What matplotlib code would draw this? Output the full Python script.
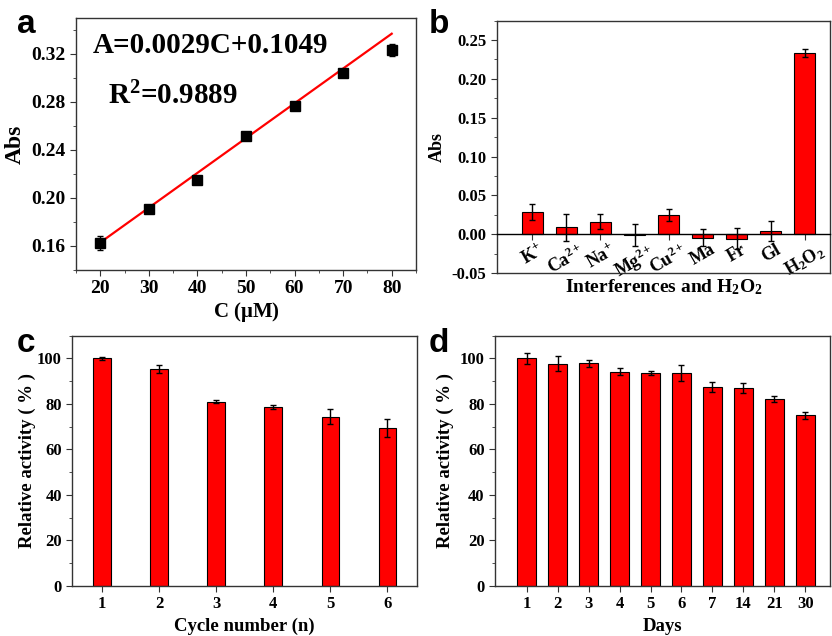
import numpy as np
import matplotlib.pyplot as plt
from matplotlib.ticker import MultipleLocator, FormatStrFormatter

plt.rcParams['font.family'] = ['Liberation Serif', 'DejaVu Serif']
plt.rcParams['font.weight'] = 'bold'
plt.rcParams['mathtext.fontset'] = 'custom'
plt.rcParams['mathtext.rm'] = 'Liberation Serif:bold'
plt.rcParams['mathtext.bf'] = 'Liberation Serif:bold'
plt.rcParams['mathtext.it'] = 'Liberation Serif:bold:italic'

# panel a: calibration
conc = [20, 30, 40, 50, 60, 70, 80]
absorb = [0.1623, 0.1906, 0.2147, 0.2517, 0.2767, 0.3039, 0.3231]
absorb_err = [0.006, 0.002, 0.002, 0.002, 0.002, 0.002, 0.005]
slope = 0.0029
intercept = 0.1049

# panel b: interferences
species = [r'K$^{+}$', r'Ca$^{2+}$', r'Na$^{+}$', r'Mg$^{2+}$', r'Cu$^{2+}$',
           'Ma', 'Fr', 'Gl', r'H$_2$O$_2$']
interf = [0.0284, 0.0086, 0.0163, -0.001, 0.0249, -0.0048, -0.0057, 0.0043, 0.233]
interf_err = [0.010, 0.018, 0.010, 0.014, 0.008, 0.011, 0.013, 0.0125, 0.005]

# panel c: reusability
cycles = ['1', '2', '3', '4', '5', '6']
cycle_act = [100.0, 95.2, 81.0, 78.7, 74.4, 69.5]
cycle_err = [0.7, 1.8, 0.8, 0.7, 3.2, 4.0]

# panel d: storage stability
days = ['1', '2', '3', '4', '5', '6', '7', '14', '21', '30']
day_act = [100.0, 97.7, 97.8, 94.1, 93.6, 93.4, 87.4, 87.0, 82.2, 75.0]
day_err = [2.5, 3.2, 1.5, 1.5, 1.0, 3.5, 2.2, 2.4, 1.2, 1.5]

red = '#ff0000'
spine_col = '#333333'


def style(ax, size=11):
    for s in ax.spines.values():
        s.set_color(spine_col)
        s.set_linewidth(1.0)
    ax.tick_params(which='both', direction='out', top=False, right=False,
                   labelsize=size, color=spine_col)
    ax.tick_params(which='major', length=4)
    ax.tick_params(which='minor', length=2)
    for lab in ax.get_xticklabels() + ax.get_yticklabels():
        lab.set_fontweight('bold')


def letter(x, y, s):
    fig.text(x, y, s, fontsize=24, fontweight='bold', family='Liberation Sans',
             va='baseline')


fig = plt.figure(figsize=(8.32, 6.36), dpi=100)

# ---- a
ax = fig.add_axes([0.0913, 0.5755, 0.4087, 0.3962])
xs = np.array([conc[0], conc[-1]])
ax.plot(xs, slope * xs + intercept, color=red, lw=1.6, zorder=2)
ax.errorbar(conc, absorb, yerr=absorb_err, fmt='s', color='black', ms=7,
            capsize=2, elinewidth=1, zorder=3)
ax.set_xlim(15, 85)
ax.set_ylim(0.14, 0.35)
ax.set_xticks(conc)
ax.xaxis.set_minor_locator(MultipleLocator(5))
ax.set_yticks([0.16, 0.20, 0.24, 0.28, 0.32])
ax.yaxis.set_minor_locator(MultipleLocator(0.02))
ax.yaxis.set_major_formatter(FormatStrFormatter('%.2f'))
ax.set_xlabel(r'C ($\mathregular{\mu}$M)', fontsize=15, fontweight='bold', labelpad=2)
ax.set_ylabel('Abs', fontsize=17, fontweight='bold', labelpad=4)
ax.text(0.05, 0.89, 'A=0.0029C+0.1049', transform=ax.transAxes,
        fontsize=21, fontweight='bold', va='center')
ax.text(0.095, 0.69, r'R$^2$=0.9889', transform=ax.transAxes,
        fontsize=21, fontweight='bold', va='center')
style(ax, 14)
letter(0.020, 0.948, 'a')

# ---- b
ax = fig.add_axes([0.5974, 0.5708, 0.4, 0.3967])
xb = np.arange(len(species))
ax.bar(xb, interf, width=0.62, color=red, edgecolor='black', lw=0.8, zorder=2)
ax.errorbar(xb, interf, yerr=interf_err, fmt='none', ecolor='black',
            capsize=2, elinewidth=1, zorder=3)
ax.set_xlim(-1.04, 8.74)
ax.set_ylim(-0.05, 0.275)
ax.spines['bottom'].set_position(('data', 0))
ax.plot([0, 1], [0, 0], transform=ax.transAxes, color=spine_col, lw=1.0,
        clip_on=False, zorder=5)
ax.set_xticks(xb)
ax.set_xticklabels(species, rotation=30, ha='center')
ax.set_yticks(np.arange(-0.05, 0.26, 0.05))
ax.yaxis.set_minor_locator(MultipleLocator(0.025))
ax.yaxis.set_major_formatter(FormatStrFormatter('%.2f'))
ax.set_ylabel('Abs', fontsize=13, fontweight='bold', labelpad=4)
ax.text(0.5, -0.058, r'Interferences and H$_2$O$_2$', transform=ax.transAxes,
        ha='center', va='center', fontsize=14, fontweight='bold')
style(ax, 12)
ax.tick_params(axis='x', labelsize=13, pad=1)
ax.spines['bottom'].set_color('black')
letter(0.515, 0.948, 'b')

# ---- c
ax = fig.add_axes([0.0869, 0.0786, 0.414, 0.3936])
xc = np.arange(1, len(cycles) + 1)
ax.bar(xc, cycle_act, width=0.30, color=red, edgecolor='black', lw=0.8, zorder=2)
ax.errorbar(xc, cycle_act, yerr=cycle_err, fmt='none', ecolor='black',
            capsize=2, elinewidth=1, zorder=3)
ax.set_xlim(0.48, 6.52)
ax.set_ylim(0, 110)
ax.set_xticks(xc)
ax.set_xticklabels(cycles)
ax.set_yticks(range(0, 101, 20))
ax.yaxis.set_minor_locator(MultipleLocator(10))
ax.set_xlabel('Cycle number (n)', fontsize=13.5, fontweight='bold')
ax.set_ylabel('Relative activity ( % )', fontsize=13.5, fontweight='bold', labelpad=1)
style(ax, 12)
letter(0.020, 0.4465, 'c')

# ---- d
ax = fig.add_axes([0.595, 0.0786, 0.402, 0.3936])
xd = np.arange(len(days))
ax.bar(xd, day_act, width=0.62, color=red, edgecolor='black', lw=0.8, zorder=2)
ax.errorbar(xd, day_act, yerr=day_err, fmt='none', ecolor='black',
            capsize=2, elinewidth=1, zorder=3)
ax.set_xlim(-1.02, 9.78)
ax.set_ylim(0, 110)
ax.set_xticks(xd)
ax.set_xticklabels(days)
ax.set_yticks(range(0, 101, 20))
ax.yaxis.set_minor_locator(MultipleLocator(10))
ax.set_xlabel('Days', fontsize=13.5, fontweight='bold')
ax.set_ylabel('Relative activity ( % )', fontsize=13.5, fontweight='bold', labelpad=4)
style(ax, 12)
letter(0.515, 0.4465, 'd')

fig.savefig('out.png', dpi=100)
